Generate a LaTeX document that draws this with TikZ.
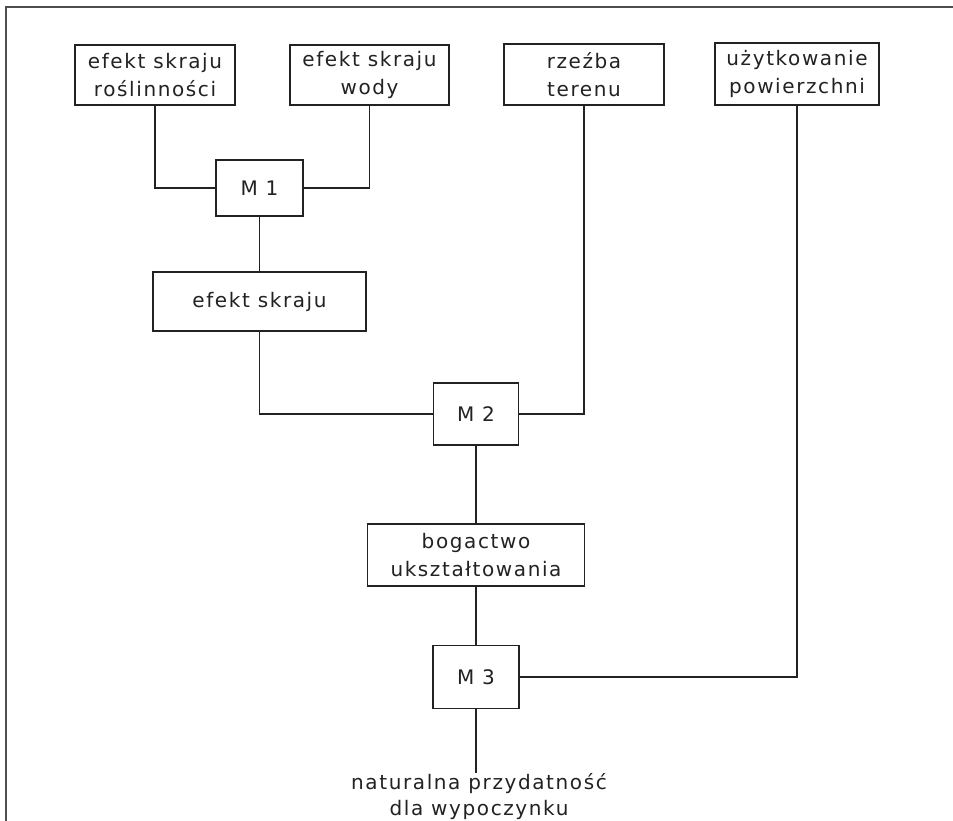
\documentclass[tikz,border=0pt]{standalone}
\usepackage{fontspec}
\newfontfamily\lett[LetterSpace=8]{DejaVu Sans}
\begin{document}
\begin{tikzpicture}[x=1pt,y=-1pt,
  box/.style={draw=ink,line width=1.9pt,inner sep=0pt,align=center,
    font=\lett\fontsize{20}{28}\selectfont,text=ink},
  conn/.style={draw=ink,line width=1.3pt},
  lbl/.style={inner sep=0pt,align=center,font=\lett\fontsize{20}{26}\selectfont,text=ink}]
\definecolor{ink}{HTML}{222222}
\useasboundingbox (0,0) rectangle (953,820);
\fill[white] (0,0) rectangle (953,820);
\draw[line width=2pt,color=ink!80] (6,822) -- (6,7) -- (955,7);

\node[box,minimum width=160pt,minimum height=60pt] (b1) at (155,75) {efekt skraju\\roślinności};
\node[box,minimum width=159pt,minimum height=60pt] (b2) at (369.5,75) {efekt skraju\\wody};
\node[box,minimum width=160pt,minimum height=61pt] (b3) at (584,74.5) {rzeźba\\terenu};
\node[box,minimum width=164pt,minimum height=62pt] (b4) at (797,74) {użytkowanie\\powierzchni};
\node[box,minimum width=87pt,minimum height=56pt] (m1) at (259.5,188) {M 1};
\node[box,minimum width=213pt,minimum height=59pt] (es) at (259.5,301.5) {efekt skraju};
\node[box,minimum width=85pt,minimum height=62pt] (m2) at (476,414) {M 2};
\node[box,minimum width=217pt,minimum height=62pt] (bog) at (476,555) {bogactwo\\ukształtowania};
\node[box,minimum width=86pt,minimum height=63pt] (m3) at (476,677) {M 3};
\node[lbl,anchor=north] (out) at (479,773) {naturalna przydatność\\dla wypoczynku};

\draw[conn] (b1.south) |- (m1.west);
\draw[conn] (b2.south) |- (m1.east);
\draw[conn] (m1.south) -- (es.north);
\draw[conn] (es.south) |- (m2.west);
\draw[conn] (b3.south) |- (m2.east);
\draw[conn] (m2.south) -- (bog.north);
\draw[conn] (bog.south) -- (m3.north);
\draw[conn] (b4.south) |- (m3.east);
\draw[conn] (m3.south) -- (m3.south |- out.north);
\end{tikzpicture}
\end{document}
